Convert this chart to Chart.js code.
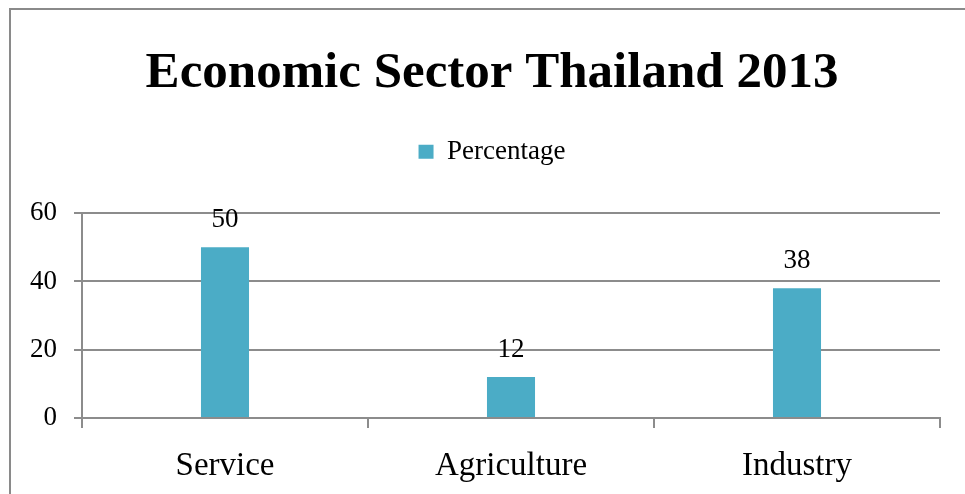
<!DOCTYPE html>
<html>
<head>
<meta charset="utf-8">
<script src="https://cdn.jsdelivr.net/npm/chart.js@4"></script>
<style>
  html, body { margin: 0; padding: 0; background: #fff; overflow: hidden; }
  #frame {
    position: absolute; left: 9px; top: 8px; width: 2000px; height: 2000px;
    border-left: 2px solid #8a8a8a; border-top: 2px solid #8a8a8a;
  }
  #wrap { position: absolute; left: 0; top: 0; width: 965px; height: 494px; }
</style>
</head>
<body>
<div id="frame"></div>
<div id="wrap"><canvas id="myChart" width="965" height="494"></canvas></div>
<script>
var sectors = ['Service', 'Agriculture', 'Industry'];
var percentage = [50, 12, 38];
var yTicks = [0, 20, 40, 60];

var FONT = "'Liberation Serif', 'Times New Roman', serif";
var GRID = '#8c8c8c';

// prints each bar's value above it
var valueLabels = {
  id: 'valueLabels',
  afterDatasetsDraw: function (chart) {
    var ctx = chart.ctx;
    ctx.save();
    ctx.font = '27px ' + FONT;
    ctx.fillStyle = '#000';
    ctx.textAlign = 'center';
    ctx.textBaseline = 'alphabetic';
    chart.getDatasetMeta(0).data.forEach(function (bar, i) {
      ctx.fillText(chart.data.datasets[0].data[i], bar.x, bar.y - 20);
    });
    ctx.restore();
  }
};

// leave extra room between the legend and the plot
var legendGap = {
  id: 'legendGap',
  beforeInit: function (chart) {
    var fit = chart.legend.fit;
    chart.legend.fit = function () {
      fit.call(this);
      this.height += 38;
    };
  }
};

var ctx = document.getElementById('myChart').getContext('2d');
var myChart = new Chart(ctx, {
  type: 'bar',
  data: {
    labels: sectors,
    datasets: [{
      label: 'Percentage',
      data: percentage,
      backgroundColor: '#4bacc6',
      categoryPercentage: 1,
      barPercentage: 0.168
    }]
  },
  options: {
    responsive: false,
    animation: false,
    layout: { padding: { left: 19, right: 0, top: 0, bottom: 4 } },
    plugins: {
      title: {
        display: true,
        text: 'Economic Sector Thailand 2013',
        color: '#000',
        font: { family: FONT, size: 51, weight: 'bold' },
        padding: { top: 43, bottom: 24 }
      },
      legend: {
        display: true,
        labels: {
          color: '#000',
          font: { family: FONT, size: 27 },
          boxWidth: 15,
          boxHeight: 14,
          padding: 10
        }
      },
      tooltip: { enabled: false }
    },
    scales: {
      x: {
        grid: { drawOnChartArea: false, drawTicks: true, tickLength: 10, color: GRID, lineWidth: 2 },
        border: { color: GRID, width: 2 },
        ticks: { color: '#000', font: { family: FONT, size: 33 }, padding: 19 },
        afterFit: function (s) { s.height = 72; }
      },
      y: {
        min: 0,
        max: 60,
        afterBuildTicks: function (s) { s.ticks = yTicks.map(function (v) { return { value: v }; }); },
        grid: { color: GRID, lineWidth: 2, tickLength: 8 },
        border: { color: GRID, width: 2 },
        ticks: { color: '#000', font: { family: FONT, size: 27 }, padding: 17 },
        afterFit: function (s) { s.width = 63; }
      },
      // empty strip on the right so the plot ends short of the edge
      spacer: {
        type: 'linear',
        position: 'right',
        grid: { display: false },
        border: { display: false },
        ticks: { display: false },
        afterFit: function (s) { s.width = 25; }
      }
    }
  },
  plugins: [valueLabels, legendGap]
});
</script>
</body>
</html>
